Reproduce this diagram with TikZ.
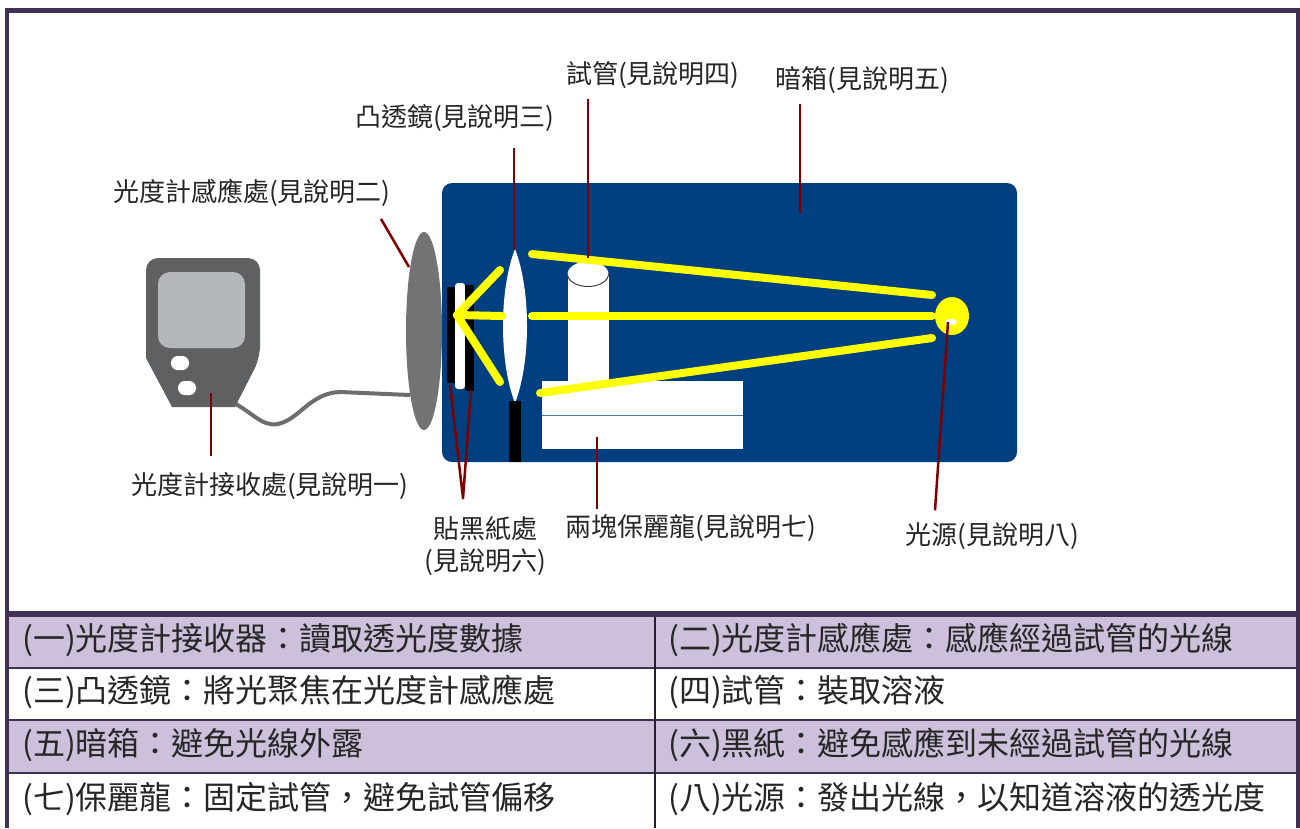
\documentclass[tikz,border=0pt]{standalone}
\usepackage{fontspec}
\newfontfamily\cjk{Noto Sans CJK TC}
\usetikzlibrary{positioning,calc}

\definecolor{boxblue}{RGB}{0,64,128}
\definecolor{framepurple}{RGB}{64,49,82}
\definecolor{rowlilac}{RGB}{204,192,218}
\definecolor{leaderred}{RGB}{128,0,0}
\definecolor{metergray}{RGB}{95,96,98}
\definecolor{screengray}{RGB}{180,184,186}
\definecolor{sensorgray}{RGB}{115,115,115}
\definecolor{raycolor}{RGB}{255,255,0}

\tikzset{
  callout/.style={font=\cjk\fontsize{26}{32}\selectfont, inner sep=0pt, text=black!85},
  notetext/.style={font=\cjk\fontsize{32}{36}\selectfont, inner sep=0pt, anchor=west, text=black!85},
  leader/.style={leaderred, line width=2.5pt, line join=round},
  ray/.style={raycolor, line width=8pt, line cap=round}
}

\begin{document}
\begin{tikzpicture}[x=1pt,y=-1pt]
\useasboundingbox (0,0) rectangle (1300,828);
\fill[white] (0,0) rectangle (1300,828);

% Marco y tabla
\fill[rowlilac] (9,617) rectangle (1296,668);
\fill[rowlilac] (9,720) rectangle (1296,773);
\foreach \y in {668,720,773}
  \draw[framepurple, line width=1.5pt] (9,\y) -- (1296,\y);
\draw[framepurple!60!black, line width=1.5pt] (655,617) -- (655,828);
\fill[framepurple] (5,8) rectangle (1300,13);
\fill[framepurple] (5,8) rectangle (9,828);
\fill[framepurple] (1296,8) rectangle (1300,828);
\fill[framepurple] (5,611) rectangle (1300,617);

% Caja oscura
\fill[boxblue, rounded corners=10pt] (442,183) rectangle (1017,462);

% Fotometro con cable
\draw[sensorgray!95!black, line width=4pt]
  (232,402) .. controls (252,412) and (262,427) .. (278,424)
  .. controls (300,419) and (310,393) .. (340,392) -- (410,395);
\fill[metergray, rounded corners=12pt]
  (146,358) -- (146,258) -- (260,258) -- (260,358) [sharp corners] -- (235,407) -- (172,407) -- cycle;
\fill[screengray, rounded corners=12pt] (158,272) rectangle (245,348);
\foreach \bx/\by in {180/363, 187/388}
  \fill[white, rounded corners=3pt] (\bx-10,\by) -- (\bx-6,\by-7) -- (\bx+6,\by-7)
    -- (\bx+10,\by) -- (\bx+6,\by+7) -- (\bx-6,\by+7) -- cycle;
\coordinate (meterpt) at (211,393);

% Sensor
\fill[sensorgray] (424,331) ellipse [x radius=18pt, y radius=99pt];
\coordinate (sensortip) at (409,267);

% Papel negro
\fill[black] (447,287) rectangle (455,383);
\fill[white, rounded corners=3pt] (455,283) rectangle (465,389);
\fill[black] (465,285) rectangle (474,391);
\coordinate (paperleft) at (450,385);
\coordinate (paperright) at (471,390);

% Lente
\fill[white] (515,249) .. controls (531,290) and (531,362) .. (515,403)
  .. controls (499,362) and (499,290) .. (515,249) -- cycle;
\fill[black] (509,401) rectangle (521,462);
\coordinate (lenstop) at (514,250);

% Tubo de ensayo
\fill[white] (568,274) rectangle (609,381);
\fill[white] (588,274) ellipse [x radius=20.5pt, y radius=12.5pt];
\draw[black!75, line width=1pt] (567.5,274) arc[start angle=180, end angle=360, x radius=20.5pt, y radius=12.5pt];
\coordinate (tubetop) at (588,258);

% Bloques de espuma
\fill[white] (542,381) rectangle (743,449);
\draw[boxblue!70, line width=1.2pt] (542,415.5) -- (743,415.5);
\coordinate (blockpt) at (597,437);

\coordinate (boxpt) at (800,213);

% Rayos de luz
\coordinate (focus) at (457,315);
\draw[ray] (focus) -- (500,270);
\draw[ray] (focus) -- (502,316);
\draw[ray] (focus) -- (500,382);
\draw[ray] (532,254) -- (932,295);
\draw[ray] (532,316) -- (932,316);
\draw[ray] (540,393) -- (932,338);

% Fuente de luz
\fill[raycolor] (952,316) ellipse [x radius=17pt, y radius=19pt];
\fill[white] (951,322) ellipse [x radius=6pt, y radius=3pt];
\coordinate (lamp) at (948,322);

% Etiquetas
\node[callout, anchor=west] (lblsensor) at (113,193) {光度計感應處(見說明二)};
\node[callout, anchor=west] (lbllens) at (355,118) {凸透鏡(見說明三)};
\node[callout, anchor=west] (lbltube) at (566,75) {試管(見說明四)};
\node[callout, anchor=west] (lblbox) at (775,80) {暗箱(見說明五)};
\node[callout, anchor=west] (lblmeter) at (131,486) {光度計接收處(見說明一)};
\node[callout, align=center] (lblpaper) at (485,546) {貼黑紙處\\(見說明六)};
\node[callout, anchor=west] (lblblock) at (565,528) {兩塊保麗龍(見說明七)};
\node[callout, anchor=west] (lblsource) at (905,536) {光源(見說明八)};

% Lineas de referencia
\draw[leader] ([shift={(-10,12)}]lblsensor.south east) -- (sensortip);
\draw[leader, shorten <=16pt] (lbllens.south -| lenstop) -- (lenstop);
\draw[leader, shorten <=10pt] (lbltube.south -| tubetop) -- (tubetop);
\draw[leader, shorten <=10pt] (lblbox.south -| boxpt) -- (boxpt);
\draw[leader, shorten <=16pt] (lblmeter.north -| meterpt) -- (meterpt);
\draw[leader, shorten <=5pt] (lblblock.north -| blockpt) -- (blockpt);
\draw[leader] (lamp) -- ([shift={(-57,-12)}]lblsource.north);
\coordinate (papertip) at ([shift={(-22,-18)}]lblpaper.north);
\draw[leader] (paperleft) -- (papertip) -- (paperright);

% Explicaciones
\node[notetext] (note1) at (22,640) {(一)光度計接收器：讀取透光度數據};
\node[notetext] (note2) at (668,640) {(二)光度計感應處：感應經過試管的光線};
\node[notetext] (note3) at (22,692) {(三)凸透鏡：將光聚焦在光度計感應處};
\node[notetext] (note4) at (668,692) {(四)試管：裝取溶液};
\node[notetext] (note5) at (22,745) {(五)暗箱：避免光線外露};
\node[notetext] (note6) at (668,745) {(六)黑紙：避免感應到未經過試管的光線};
\node[notetext] (note7) at (22,799) {(七)保麗龍：固定試管，避免試管偏移};
\node[notetext] (note8) at (668,799) {(八)光源：發出光線，以知道溶液的透光度};
\end{tikzpicture}
\end{document}
